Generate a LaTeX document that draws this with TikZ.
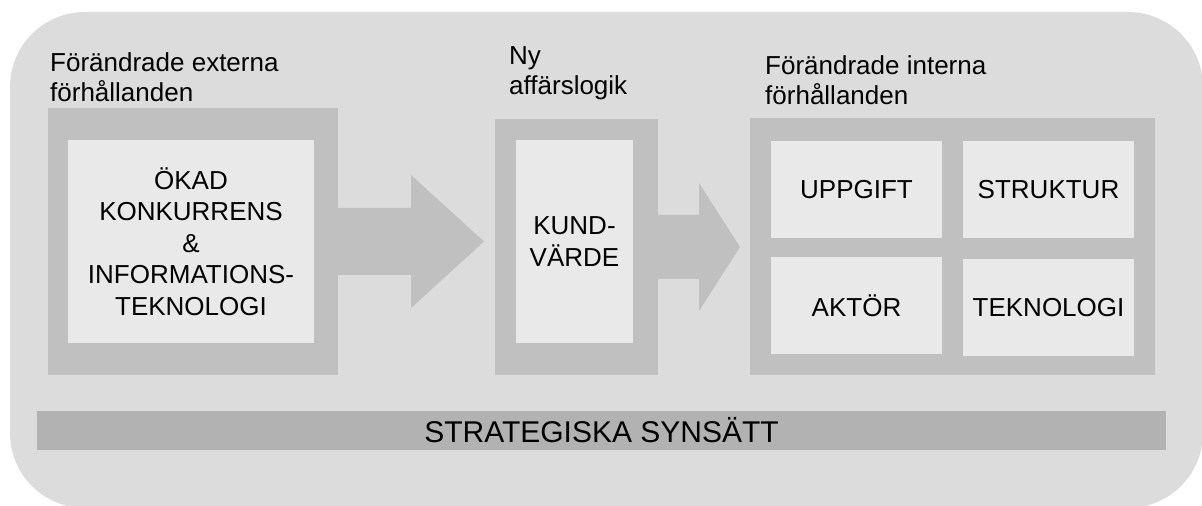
\documentclass[tikz,border=0pt]{standalone}
\usepackage{fontspec}
\setmainfont{Liberation Sans}
\definecolor{bggray}{HTML}{DCDCDC}
\definecolor{outergray}{HTML}{C0C0C0}
\definecolor{innergray}{HTML}{E9E9E9}
\definecolor{bargray}{HTML}{B2B2B2}
\newcommand{\lblfont}{\fontsize{26bp}{30bp}\selectfont}
\newcommand{\bxfont}{\fontsize{26bp}{31.5bp}\selectfont}
\newcommand{\barfont}{\fontsize{30bp}{35bp}\selectfont}
\begin{document}
\begin{tikzpicture}[x=1bp,y=-1bp,
  box/.style={anchor=north west, inner sep=0pt, outer sep=0pt, draw=none},
  outerbox/.style={box, fill=outergray},
  innerbox/.style={box, fill=innergray, align=center, font=\bxfont},
  lbl/.style={anchor=base west, inner sep=0pt, align=left, font=\lblfont},
  blockarrow/.style={fill=outergray, draw=none},
]
\useasboundingbox (0,0) rectangle (1202,506);
% background
\node[box, fill=bggray, rounded corners=75bp, minimum width=1193bp, minimum height=496bp] (bg) at (10,12) {};
% labels (anchor at baseline of last line)
\node[lbl] (lblL) at (50,102) {Förändrade externa\\förhållanden};
\node[lbl] (lblM) at (509,95) {Ny\\affärslogik};
\node[lbl] (lblR) at (765,105) {Förändrade interna\\förhållanden};
% left block
\node[outerbox, minimum width=290bp, minimum height=267bp] (outerL) at (48,108) {};
\node[innerbox, minimum width=246bp, minimum height=203bp] (innerL) at (68,140) {ÖKAD\\KONKURRENS\\\&\\INFORMATIONS-\\TEKNOLOGI};
% middle block
\node[outerbox, minimum width=163bp, minimum height=256bp] (outerM) at (495,119) {};
\node[innerbox, minimum width=117bp, minimum height=203bp] (innerM) at (516,140) {KUND-\\VÄRDE};
% right block
\node[outerbox, minimum width=405bp, minimum height=257bp] (outerR) at (750,118) {};
\node[innerbox, minimum width=171bp, minimum height=97bp] (upp) at (771,141) {UPPGIFT};
\node[innerbox, minimum width=171bp, minimum height=97bp] (str) at (963,141) {STRUKTUR};
\node[innerbox, minimum width=171bp, minimum height=97bp] (akt) at (771,257) {AKTÖR};
\node[innerbox, minimum width=171bp, minimum height=97bp] (tek) at (963,259) {TEKNOLOGI};
% block arrows
\fill[blockarrow] (outerL.east |- 0,208) -- (411,208) -- (411,175) -- (484,241.5)
  -- (411,308) -- (411,275) -- (outerL.east |- 0,275) -- cycle;
\fill[blockarrow] (outerM.east |- 0,215) -- (699,215) -- (699,183) -- (740,247)
  -- (699,311) -- (699,279) -- (outerM.east |- 0,279) -- cycle;
% bar
\node[box, fill=bargray, minimum width=1129bp, minimum height=39bp, font=\barfont] (bar) at (37,411) {STRATEGISKA SYNSÄTT};
\end{tikzpicture}
\end{document}
